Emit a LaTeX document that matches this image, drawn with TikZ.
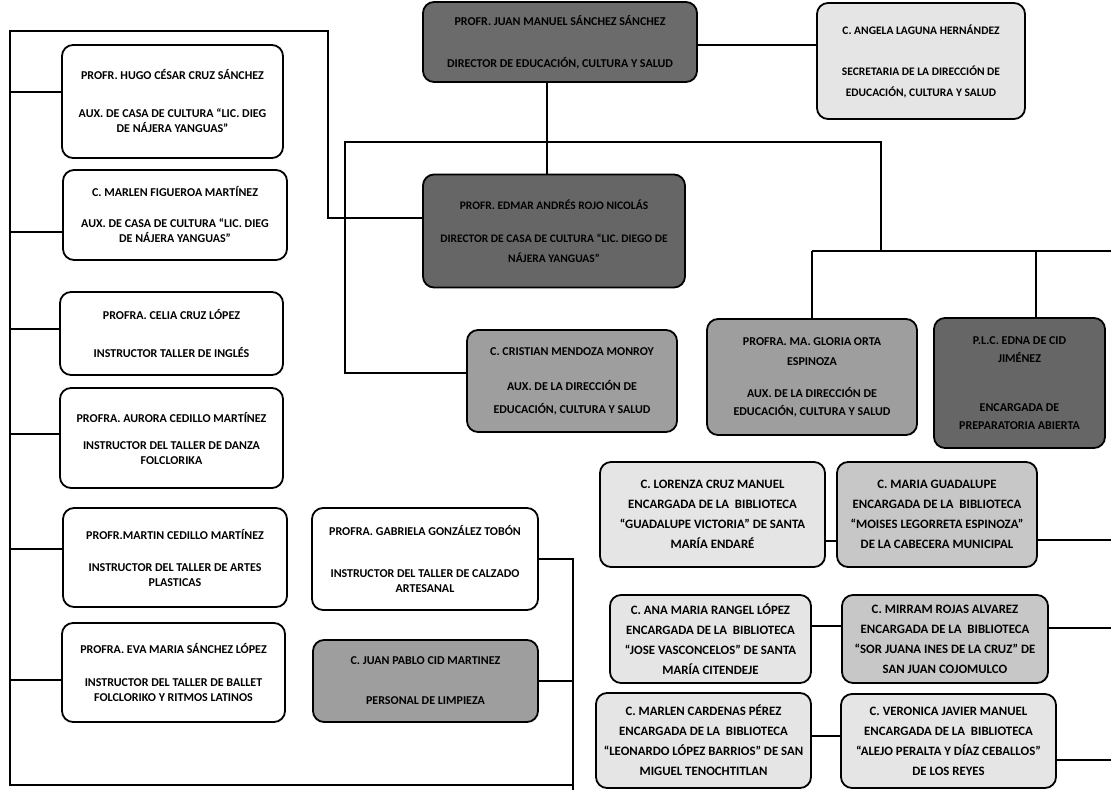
\documentclass[tikz,border=0pt]{standalone}
\usepackage{fontspec}
\setmainfont{Carlito}
\definecolor{topfill}{gray}{0.42}
\definecolor{darkfill}{gray}{0.40}
\definecolor{midfill}{gray}{0.62}
\definecolor{lightfill}{gray}{0.90}
\definecolor{lgfill}{gray}{0.78}
\begin{document}
\begin{tikzpicture}[x=1pt,y=-1pt,
  box/.style={draw=black, line width=1.8pt, rounded corners=11pt, align=center, inner sep=1pt, font=\bfseries\fontsize{12}{15}\selectfont},
  smallbox/.style={box, font=\bfseries\fontsize{11.5}{15}\selectfont},
  libbox/.style={box, font=\bfseries\fontsize{12.8}{20}\selectfont},
  link/.style={draw=black, line width=2.3pt}]
\useasboundingbox (0,0) rectangle (1111,790);
\fill[white] (0,0) rectangle (1111,790);

% ---- top level
\node[box, fill=topfill, minimum width=274pt, minimum height=80pt] (top) at (560,42)
  {PROFR. JUAN MANUEL SÁNCHEZ SÁNCHEZ\\[27pt]DIRECTOR DE EDUCACIÓN, CULTURA Y SALUD};
\node[smallbox, fill=lightfill, minimum width=208pt, minimum height=116pt] (angela) at (921,61)
  {C. ANGELA LAGUNA HERNÁNDEZ\\[26pt]SECRETARIA DE LA DIRECCIÓN DE\\[6pt]EDUCACIÓN, CULTURA Y SALUD};
\node[smallbox, fill=darkfill, minimum width=262pt, minimum height=113pt] (edmar) at (554,231)
  {PROFR. EDMAR ANDRÉS ROJO NICOLÁS\\[18pt]DIRECTOR DE CASA DE CULTURA “LIC. DIEGO DE\\[5pt]NÁJERA YANGUAS”};

% ---- middle row
\node[box, fill=midfill, minimum width=210pt, minimum height=102pt] (cristian) at (572,381)
  {C. CRISTIAN MENDOZA MONROY\\[20pt]AUX. DE LA DIRECCIÓN DE\\[8pt]EDUCACIÓN, CULTURA Y SALUD};
\node[box, fill=midfill, minimum width=210pt, minimum height=116pt] (gloria) at (812,377)
  {PROFRA. MA. GLORIA ORTA\\[5pt]ESPINOZA\\[17pt]AUX. DE LA DIRECCIÓN DE\\[3pt]EDUCACIÓN, CULTURA Y SALUD};
\node[box, fill=darkfill, minimum width=171pt, minimum height=130pt] (cid) at (1019.5,383)
  {P.L.C. EDNA DE CID\\[3pt]JIMÉNEZ\\[34pt]ENCARGADA DE\\[3pt]PREPARATORIA ABIERTA};

% ---- left column
\node[box, minimum width=221pt, minimum height=113pt] (hugo) at (172.5,101.5)
  {PROFR. HUGO CÉSAR CRUZ SÁNCHEZ\\[23pt]AUX. DE CASA DE CULTURA “LIC. DIEG\\DE NÁJERA YANGUAS”};
\node[box, minimum width=224pt, minimum height=90pt] (marlenf) at (175,215)
  {C. MARLEN FIGUEROA MARTÍNEZ\\[16pt]AUX. DE CASA DE CULTURA “LIC. DIEG\\DE NÁJERA YANGUAS”};
\node[box, minimum width=223pt, minimum height=83pt] (celia) at (171.5,333.5)
  {PROFRA. CELIA CRUZ LÓPEZ\\[23pt]INSTRUCTOR TALLER DE INGLÉS};
\node[box, minimum width=223pt, minimum height=100pt] (aurora) at (171.5,438)
  {PROFRA. AURORA CEDILLO MARTÍNEZ\\[12pt]INSTRUCTOR DEL TALLER DE DANZA\\FOLCLORIKA};
\node[box, minimum width=224pt, minimum height=99pt] (martin) at (175,557.5)
  {PROFR.MARTIN CEDILLO MARTÍNEZ\\[17pt]INSTRUCTOR DEL TALLER DE ARTES\\PLASTICAS};
\node[box, minimum width=223pt, minimum height=99pt] (eva) at (173.5,672.5)
  {PROFRA. EVA MARIA SÁNCHEZ LÓPEZ\\[18pt]INSTRUCTOR DEL TALLER DE BALLET\\FOLCLORIKO Y RITMOS LATINOS};

% ---- centre bottom
\node[box, minimum width=226pt, minimum height=102pt] (gabriela) at (425,559)
  {PROFRA. GABRIELA GONZÁLEZ TOBÓN\\[27pt]INSTRUCTOR DEL TALLER DE CALZADO\\ARTESANAL};
\node[box, fill=midfill, minimum width=225pt, minimum height=82pt] (jpablo) at (425.5,681)
  {C. JUAN PABLO CID MARTINEZ\\[25pt]PERSONAL DE LIMPIEZA};

% ---- libraries
\node[libbox, fill=lightfill, minimum width=225pt, minimum height=105pt] (lorenza) at (712.5,514.5)
  {C. LORENZA CRUZ MANUEL\\ENCARGADA DE LA\ \ BIBLIOTECA\\“GUADALUPE VICTORIA” DE SANTA\\MARÍA ENDARÉ};
\node[libbox, fill=lgfill, minimum width=200pt, minimum height=105pt] (mariag) at (937,514.5)
  {C. MARIA GUADALUPE\\ENCARGADA DE LA\ \ BIBLIOTECA\\“MOISES LEGORRETA ESPINOZA”\\DE LA CABECERA MUNICIPAL};
\node[libbox, fill=lightfill, minimum width=201pt, minimum height=88pt] (ana) at (710.5,639)
  {C. ANA MARIA RANGEL LÓPEZ\\ENCARGADA DE LA\ \ BIBLIOTECA\\“JOSE VASCONCELOS” DE SANTA\\MARÍA CITENDEJE};
\node[libbox, fill=lgfill, minimum width=206pt, minimum height=88pt] (mirram) at (945,639)
  {C. MIRRAM ROJAS ALVAREZ\\ENCARGADA DE LA\ \ BIBLIOTECA\\“SOR JUANA INES DE LA CRUZ” DE\\SAN JUAN COJOMULCO};
\node[libbox, fill=lightfill, minimum width=215pt, minimum height=95pt] (marlenc) at (703.5,740.5)
  {C. MARLEN CARDENAS PÉREZ\\ENCARGADA DE LA\ \ BIBLIOTECA\\“LEONARDO LÓPEZ BARRIOS” DE SAN\\MIGUEL TENOCHTITLAN};
\node[libbox, fill=lightfill, minimum width=215pt, minimum height=94pt] (veronica) at (948.5,741)
  {C. VERONICA JAVIER MANUEL\\ENCARGADA DE LA\ \ BIBLIOTECA\\“ALEJO PERALTA Y DÍAZ CEBALLOS”\\DE LOS REYES};

% ---- coordinates for connector bends and free ends
\coordinate (jv) at (547,142);
\coordinate (h1) at (345,142);
\coordinate (j2) at (881,142);
\coordinate (j3) at (881,251);
\coordinate (g1) at (812,251);
\coordinate (g2) at (1111,251);
\coordinate (c1) at (1036,251);
\coordinate (tl) at (10,31);
\coordinate (tr) at (328,31);
\coordinate (ke) at (328,218);
\coordinate (bl) at (10,785);
\coordinate (br) at (573,785);
\coordinate (bb) at (573,790);
\coordinate (edge) at (1111,0);
\coordinate (ck) at ([yshift=8pt]cristian.west);

% ---- connectors
\draw[link] ([yshift=-3pt]top.east) -- ([yshift=-3pt]top.east -| angela.west);
\draw[link] (top.south -| jv) -- (edmar.north -| jv);
\draw[link] (ck) -- (h1 |- ck) -- (h1) -- (j2) -- (j3);
\draw[link] (g1) -- (g2);
\draw[link] (g1) -- (gloria.north);
\draw[link] (c1) -- (c1 |- cid.north);

\draw[link] (edmar.west |- ke) -- (ke) -- (tr) -- (tl) -- (bl) -- (br);
\draw[link] (bb) -- (bb |- gabriela.east) -- (gabriela.east);
\draw[link] (jpablo.east) -- (jpablo.east -| bb);

\draw[link] ([yshift=9.5pt]hugo.west) -- ([yshift=9.5pt]hugo.west -| tl);
\draw[link] ([yshift=-17pt]marlenf.west) -- ([yshift=-17pt]marlenf.west -| tl);
\draw[link] ([yshift=4.5pt]celia.west) -- ([yshift=4.5pt]celia.west -| tl);
\draw[link] ([yshift=4pt]aurora.west) -- ([yshift=4pt]aurora.west -| tl);
\draw[link] ([yshift=8.5pt]martin.west) -- ([yshift=8.5pt]martin.west -| tl);
\draw[link] ([yshift=-7.5pt]eva.west) -- ([yshift=-7.5pt]eva.west -| tl);

\draw[link] ([yshift=-26.5pt]lorenza.east) -- ([yshift=-26.5pt]lorenza.east -| mariag.west);
\draw[link] ([yshift=-25.5pt]mariag.east) -- ([yshift=-25.5pt]mariag.east -| edge);
\draw[link] ([yshift=13pt]ana.east) -- ([yshift=13pt]ana.east -| mirram.west);
\draw[link] ([yshift=11pt]mirram.east) -- ([yshift=11pt]mirram.east -| edge);
\draw[link] ([yshift=4.5pt]marlenc.east) -- ([yshift=4.5pt]marlenc.east -| veronica.west);
\draw[link] ([yshift=-19pt]veronica.east) -- ([yshift=-19pt]veronica.east -| edge);
\end{tikzpicture}
\end{document}
